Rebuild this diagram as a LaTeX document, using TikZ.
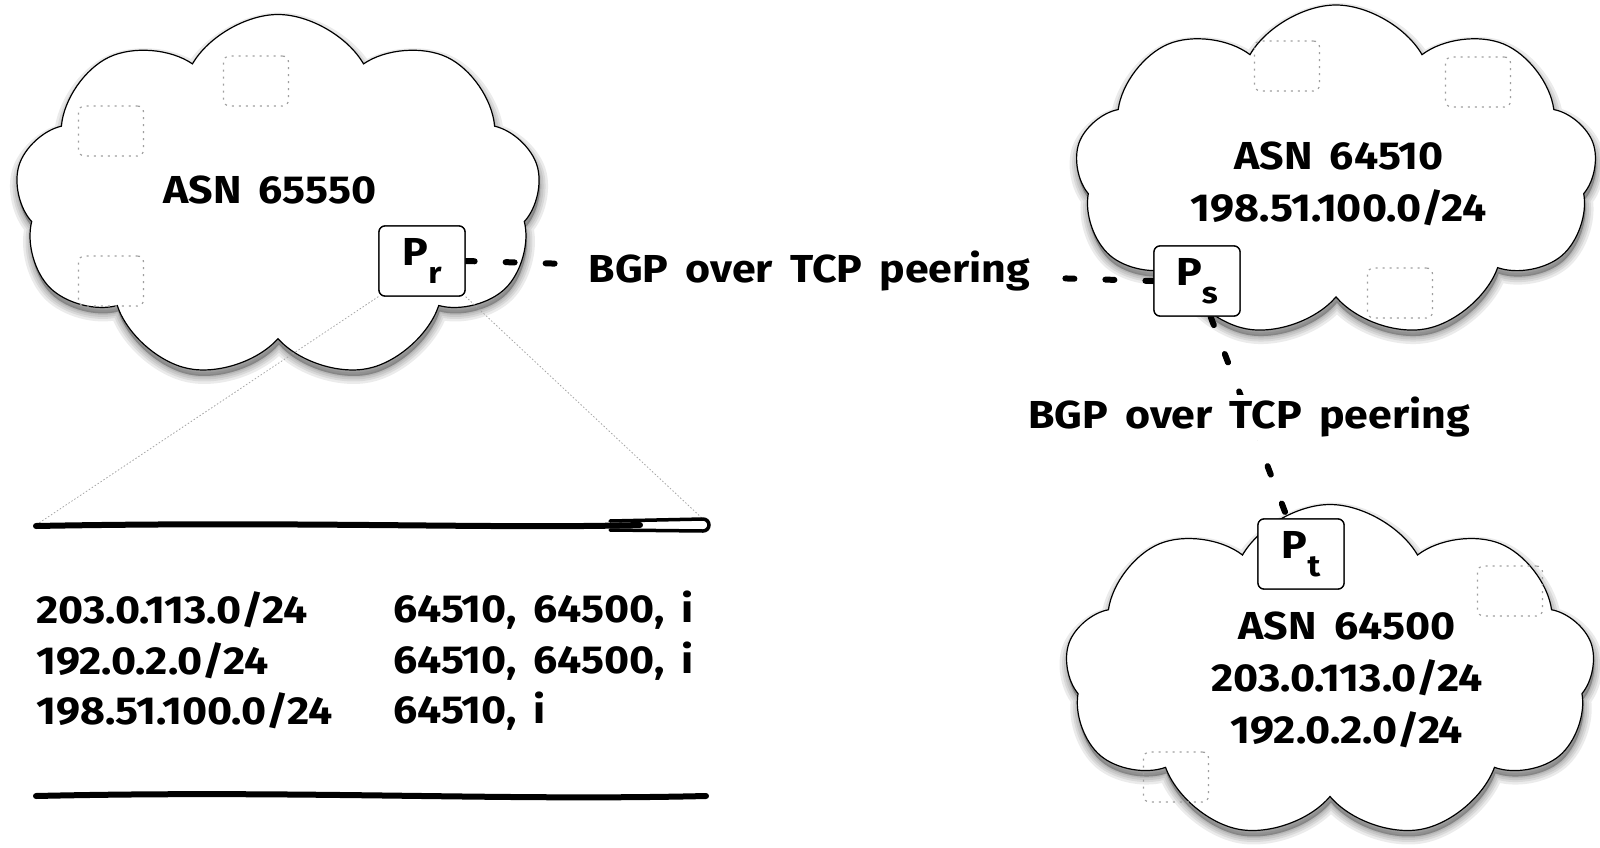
\documentclass[tikz,border=0pt]{standalone}
\usepackage{fontspec}
\setmainfont{Fira Sans}[WordSpace=1.7, FakeStretch=1.1]
\usetikzlibrary{shapes.symbols,calc}
\newcommand{\bigtext}{\fontsize{39}{52}\selectfont\bfseries}
\newcommand{\subtxt}[1]{\raisebox{-0.45em}{\fontsize{30}{30}\selectfont\bfseries #1}}
\begin{document}
\begin{tikzpicture}[x=1pt,y=-1pt,
  cloudbase/.style={cloud, cloud puffs=9, cloud puff arc=120, inner sep=0pt},
  cloudshape/.style={cloudbase, draw=black, line width=1.2pt, fill=white},
  cloudshadow/.style={cloudbase, draw=black, fill=black, opacity=0.08, line width=#1},
  router/.style={draw, line width=1.3pt, rounded corners=6pt, fill=white, minimum width=86pt, minimum height=70pt, inner sep=0pt, font=\bigtext},
  host/.style={draw=gray!75, line width=1.2pt, dash pattern=on 2pt off 5pt, rounded corners=6pt, minimum width=65pt, minimum height=50pt},
  peer/.style={line width=6pt, line cap=round, dash pattern=on 9pt off 31pt},
  peerlabel/.style={fill=white, inner xsep=9pt, inner ysep=2pt, outer sep=0pt, font=\bigtext},
  zoomline/.style={gray!70, line width=0.8pt, dash pattern=on 1.5pt off 2pt},
  lbl/.style={font=\bigtext, align=center},
  row/.style={font=\bigtext, anchor=west, inner sep=0pt},
  rule/.style={line width=6pt, line cap=round}
]
\useasboundingbox (0,0) rectangle (1600,848);

% cloud shadows (soft)
\foreach \w in {16,11,7,3}{
  \node[cloudshadow=\w pt, minimum width=526pt, minimum height=365pt] at (279,203) {};
  \node[cloudshadow=\w pt, minimum width=522pt, minimum height=334pt] at (1337,178) {};
  \node[cloudshadow=\w pt, minimum width=530pt, minimum height=335pt] at (1331,678) {};
}
% clouds
\node[cloudshape, minimum width=526pt, minimum height=365pt] (cA) at (278,197) {};
\node[cloudshape, minimum width=522pt, minimum height=334pt] (cB) at (1336,172) {};
\node[cloudshape, minimum width=530pt, minimum height=335pt] (cC) at (1330,672) {};

% hosts
\node[host] (hA1) at (256,81) {};
\node[host] (hA2) at (111,131) {};
\node[host] (hA3) at (111,281) {};
\node[host] (hB1) at (1287,66) {};
\node[host] (hB2) at (1478,82) {};
\node[host] (hB3) at (1400,293) {};
\node[host] (hC1) at (1510,591) {};
\node[host] (hC2) at (1176,777) {};

% cloud texts
\node[lbl] (tA) at (270,190) {ASN 65550};
\node[lbl] (tB) at (1339,184) {ASN 64510\\198.51.100.0/24};
\node[lbl] (tC) at (1347,680) {ASN 64500\\203.0.113.0/24\\192.0.2.0/24};

% routers
\node[router] (Pr) at (422,261) {P\subtxt{r}};
\node[router] (Ps) at (1197,281) {P\subtxt{s}};
\node[router] (Pt) at (1301,554) {P\subtxt{t}};

% peerings
\draw[peer] (Pr.east) -- node[peerlabel] (l1) {BGP over TCP peering} (Ps.west);
\draw[peer] (Ps) -- node[peerlabel, inner xsep=2pt] (l2) {BGP over TCP peering} (Pt);
\node[router] at (Pr) {P\subtxt{r}};
\node[router] at (Ps) {P\subtxt{s}};
\node[router] at (Pt) {P\subtxt{t}};

% zoom lines
\coordinate (tl) at (39,523);
\coordinate (tr) at (704,520);
\draw[zoomline] (Pr.south west) -- (tl);
\draw[zoomline] (Pr.south east) -- (tr);

% table rules
\draw[rule] (36,526) .. controls (300,521) and (500,529) .. (640,525);
\draw[line width=3.5pt, line cap=round] (610,521) -- (703,519) arc (90:-90:6pt) -- (610,530);
\draw[rule] (36,796) .. controls (300,790) and (500,801) .. (706,796);

% table rows
\node[row] (r1a) at (36,610) {203.0.113.0/24};
\node[row] (r1b) at (393,610) {64510, 64500, i};
\node[row] (r2a) at (36,661) {192.0.2.0/24};
\node[row] (r2b) at (393,661) {64510, 64500, i};
\node[row] (r3a) at (36,711) {198.51.100.0/24};
\node[row] (r3b) at (393,711) {64510, i};
\end{tikzpicture}
\end{document}
